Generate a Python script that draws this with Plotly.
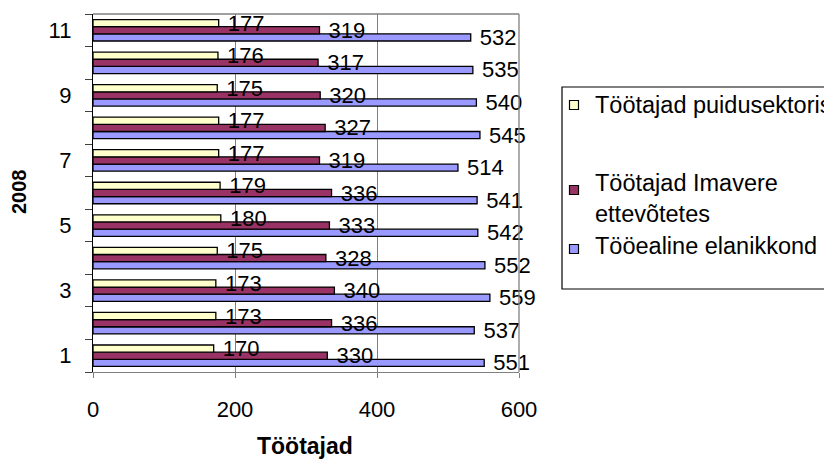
import plotly.graph_objects as go

# ---- data ----
categories = ["1", "2", "3", "4", "5", "6", "7", "8", "9", "10", "11"]
puidusektor = [170, 173, 173, 175, 180, 179, 177, 177, 175, 176, 177]
imavere = [330, 336, 340, 328, 333, 336, 319, 327, 320, 317, 319]
elanikkond = [551, 537, 559, 552, 542, 541, 514, 545, 540, 535, 532]
series_names = ["Töötajad puidusektoris", "Töötajad Imavere ettevõtetes", "Tööealine elanikkond"]
y_tick_text = ["1", "", "3", "", "5", "", "7", "", "9", "", "11"]
x_ticks = [0, 200, 400, 600]
x_title = "Töötajad"
y_title = "2008"

# ---- style ----
colors = ["#FFFFCC", "#993366", "#9999FF"]
FONT = "Liberation Sans, Arial, sans-serif"
OFF = 8  # page body margin offset
W, H = 832 - OFF, 464 - OFF
ML, MR, MT, MB = 93 - OFF, 313, 14 - OFF, 92
PW, PH = W - ML - MR, H - MT - MB


def px(x):
    return (x - OFF - ML) / PW


def py(y):
    return 1 - (y - OFF - MT) / PH


fig = go.Figure()
# bottom-to-top drawing order inside each group: blue, maroon, yellow
for vals, name, col in [(elanikkond, series_names[2], colors[2]),
                        (imavere, series_names[1], colors[1]),
                        (puidusektor, series_names[0], colors[0])]:
    fig.add_trace(go.Bar(
        y=categories, x=vals, name=name, orientation="h",
        marker=dict(color=col, line=dict(color="black", width=1.3)),
        texttemplate="\u00a0%{x}", textposition="outside",
        textfont=dict(family=FONT, size=22, color="black"),
        constraintext="none", cliponaxis=False, showlegend=False,
    ))

shapes = [
    # top and right border of plot area
    dict(type="line", xref="paper", yref="paper", x0=0, x1=1, y0=1, y1=1,
         line=dict(color="#808080", width=1.3)),
    dict(type="line", xref="paper", yref="paper", x0=1, x1=1, y0=0, y1=1,
         line=dict(color="#808080", width=1.3)),
    # legend box
    dict(type="rect", xref="paper", yref="paper", x0=px(562), x1=px(900),
         y0=py(289), y1=py(87), line=dict(color="black", width=1.2),
         fillcolor="white", layer="above"),
]
annotations = []
legend_items = [
    (colors[0], 105, series_names[0], 105),
    (colors[1], 190, "Töötajad Imavere<br>ettevõtetes", 198),
    (colors[2], 249, series_names[2], 246),
]
for col, sy, txt, ty in legend_items:
    shapes.append(dict(type="rect", xref="paper", yref="paper",
                       x0=px(569.5), x1=px(578.5), y0=py(sy + 4.5), y1=py(sy - 4.5),
                       fillcolor=col, line=dict(color="black", width=1.2), layer="above"))
    annotations.append(dict(text=txt, xref="paper", yref="paper", x=px(593), y=py(ty),
                            xanchor="left", yanchor="middle", align="left", showarrow=False,
                            font=dict(family=FONT, size=23.5, color="black")))

annotations.append(dict(text="<b>" + y_title + "</b>", xref="paper", yref="paper",
                        x=px(19), y=py(192), textangle=-90, showarrow=False,
                        xanchor="center", yanchor="middle",
                        font=dict(family=FONT, size=20, color="black")))
annotations.append(dict(text="<b>" + x_title + "</b>", xref="paper", yref="paper",
                        x=px(305), y=py(446), showarrow=False,
                        xanchor="center", yanchor="middle",
                        font=dict(family=FONT, size=23, color="black")))

fig.update_layout(
    width=W, height=H,
    margin=dict(l=ML, r=MR, t=MT, b=MB, autoexpand=False),
    paper_bgcolor="white", plot_bgcolor="white",
    barmode="group", bargap=0.34, bargroupgap=0,
    font=dict(family=FONT, size=22, color="black"),
    shapes=shapes, annotations=annotations,
    xaxis=dict(range=[0, 600], tickvals=x_ticks, ticks="outside", ticklen=5,
               tickcolor="#808080", tickwidth=1.3,
               showgrid=True, gridcolor="#808080", gridwidth=1.3,
               showline=True, linecolor="#808080", linewidth=1.3,
               zeroline=False, ticklabelstandoff=12,
               tickfont=dict(family=FONT, size=22, color="black")),
    yaxis=dict(type="category", categoryorder="array", categoryarray=categories,
               tickvals=categories, ticktext=y_tick_text,
               tickson="boundaries", ticks="outside", ticklen=7,
               tickcolor="#404040", tickwidth=1.3,
               showgrid=False, showline=True, linecolor="black", linewidth=1.3,
               ticklabelstandoff=16,
               tickfont=dict(family=FONT, size=22, color="black")),
)

fig.write_html("out.html")
